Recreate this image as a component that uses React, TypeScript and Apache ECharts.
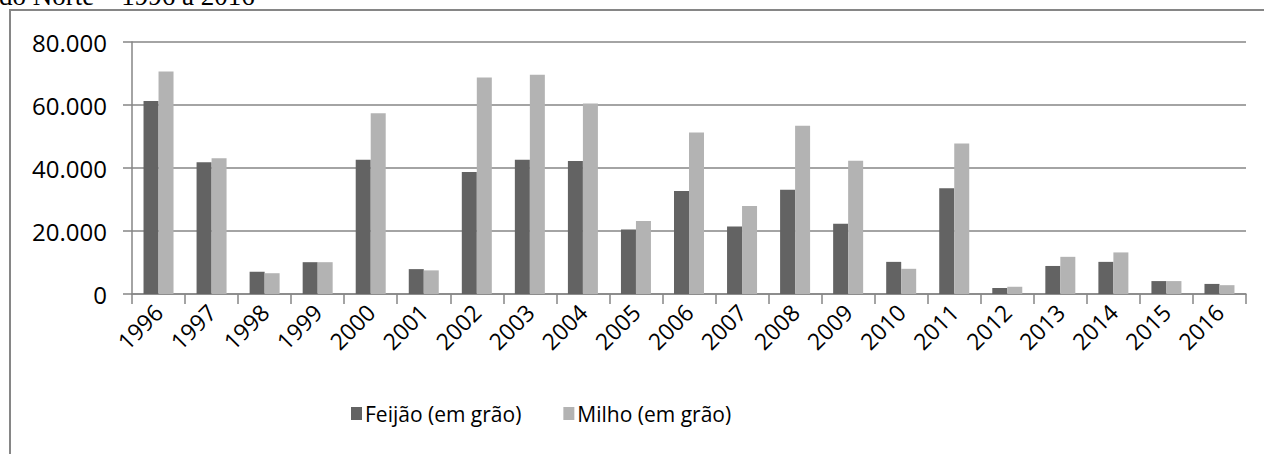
import React, { useEffect, useRef } from "react";
import * as echarts from "echarts";

const years = ["1996","1997","1998","1999","2000","2001","2002","2003","2004","2005","2006","2007","2008","2009","2010","2011","2012","2013","2014","2015","2016"];
const feijao = [61300, 41800, 7100, 10100, 42600, 7900, 38700, 42600, 42200, 20500, 32700, 21400, 33100, 22300, 10200, 33600, 1900, 8900, 10200, 4100, 3200];
const milho = [70600, 43100, 6600, 10100, 57400, 7500, 68700, 69600, 60500, 23200, 51300, 27900, 53400, 42300, 8000, 47800, 2300, 11800, 13200, 4100, 2800];
const seriesNames = ["Feijão (em grão)", "Milho (em grão)"];
const titleText = "do Norte – 1996 a 2016";

const FONT = "'Open Sans', sans-serif";
const GRAY = "#868686";

export default function App() {
  const ref = useRef<HTMLDivElement>(null);
  useEffect(() => {
    const chart = echarts.init(ref.current!, null, { renderer: "svg" });
    chart.setOption({
      animation: false,
      backgroundColor: "#ffffff",
      graphic: [
        {
          type: "rect",
          shape: { x: 10, y: 10, width: 1400, height: 600 },
          style: { fill: "none", stroke: GRAY, lineWidth: 2 },
          silent: true,
        },
        {
          type: "text",
          x: -1,
          y: -4,
          style: {
            text: titleText,
            font: "27px 'Liberation Serif', serif",
            fill: "#000",
            verticalAlign: "middle",
          },
        },
      ],
      grid: { left: 132, right: 18, top: 42, bottom: 160, containLabel: false },
      legend: {
        data: seriesNames,
        left: 346,
        top: 398,
        icon: "rect",
        itemWidth: 11,
        itemHeight: 13,
        itemGap: 42,
        textStyle: { fontFamily: FONT, fontSize: 21, color: "#000", padding: [0, 0, 0, -2] },
      },
      xAxis: {
        type: "category",
        data: years,
        axisLine: { lineStyle: { color: GRAY, width: 1.5 } },
        axisTick: { show: true, length: 10, lineStyle: { color: GRAY, width: 1.5 } },
        axisLabel: { rotate: 45, margin: 14, fontFamily: FONT, fontSize: 23, color: "#000", interval: 0 },
      },
      yAxis: {
        type: "value",
        min: 0,
        max: 80000,
        interval: 20000,
        axisLine: { show: true, lineStyle: { color: GRAY, width: 1.5 } },
        axisTick: { show: true, length: 9, lineStyle: { color: GRAY, width: 1.5 } },
        splitLine: { lineStyle: { color: GRAY, width: 1.5 } },
        axisLabel: {
          margin: 25,
          fontFamily: FONT,
          fontSize: 24,
          color: "#000",
          formatter: (v: number) => (v === 0 ? "0" : (v / 1000).toFixed(0) + ".000"),
        },
      },
      series: [
        { name: seriesNames[0], type: "bar", data: feijao, barWidth: 15, barGap: "0%", itemStyle: { color: "#636363" } },
        { name: seriesNames[1], type: "bar", data: milho, barWidth: 15, barGap: "0%", itemStyle: { color: "#b3b3b3" } },
      ],
    });
    return () => chart.dispose();
  }, []);
  return <div ref={ref} style={{ position: "fixed", left: 0, top: 0, width: 1264, height: 454 }} />;
}
